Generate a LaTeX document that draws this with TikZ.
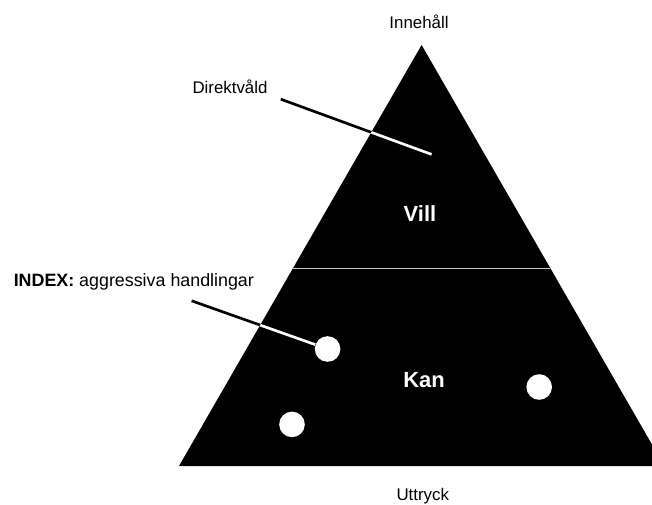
\documentclass[tikz,border=0pt]{standalone}
\usepackage{fontspec}
\setmainfont{Liberation Sans}
\usetikzlibrary{calc,positioning}

\tikzset{
    lbl/.style={font=\fontsize{12}{14}\selectfont},
    lvl/.style={text=white, font=\fontsize{15.6}{18}\selectfont\bfseries},
    dot/.style={circle, fill=white, inner sep=0pt, minimum size=0.64cm},
    pointer/.style={line width=1.9pt},
}

\begin{document}
\begin{tikzpicture}
    \useasboundingbox (0,0) rectangle (16.3,12.6);
    \clip (0,0) rectangle (16.3,12.6);

    \coordinate (top) at (10.54,11.475);
    \coordinate (bl) at (4.475,0.95);
    \coordinate (br) at (16.61,0.95);
    \fill[black] (top) -- (bl) -- (br) -- cycle;
    \draw[gray!45, line width=0.6pt] ($(top)!0.53!(bl)$) -- ($(top)!0.53!(br)$);

    \node[lbl] (innehall) at (10.475,12.05) {Innehåll};
    \node[lbl] (uttryck) at (10.57,0.2) {Uttryck};
    \node[lbl] (direkt) at (5.75,10.425) {Direktvåld};
    \node[lbl, anchor=west, font=\fontsize{12.7}{15}\selectfont] (index) at (0.22,5.55) {\textbf{INDEX:} aggressiva handlingar};

    \node[lvl] (vill) at (10.5,7.27) {Vill};
    \node[lvl] (kan) at (10.6,3.1) {Kan};

    \node[dot] (dotA) at (8.19,3.875) {};
    \node[dot] (dotB) at (13.48,2.925) {};
    \node[dot] (dotC) at (7.3,1.99) {};

    \coordinate (d1) at (7.02,10.12);
    \coordinate (d2) at (10.79,8.74);
    \coordinate (i1) at (4.79,5.08);

    % pointers: black on white, white on the triangle
    \draw[pointer] (d1) -- (d2);
    \draw[pointer] (i1) -- (dotA);
    \begin{scope}
        \clip (top) -- (bl) -- (br) -- cycle;
        \draw[pointer, white] (d1) -- (d2);
        \draw[pointer, white] (i1) -- (dotA);
    \end{scope}
\end{tikzpicture}
\end{document}
